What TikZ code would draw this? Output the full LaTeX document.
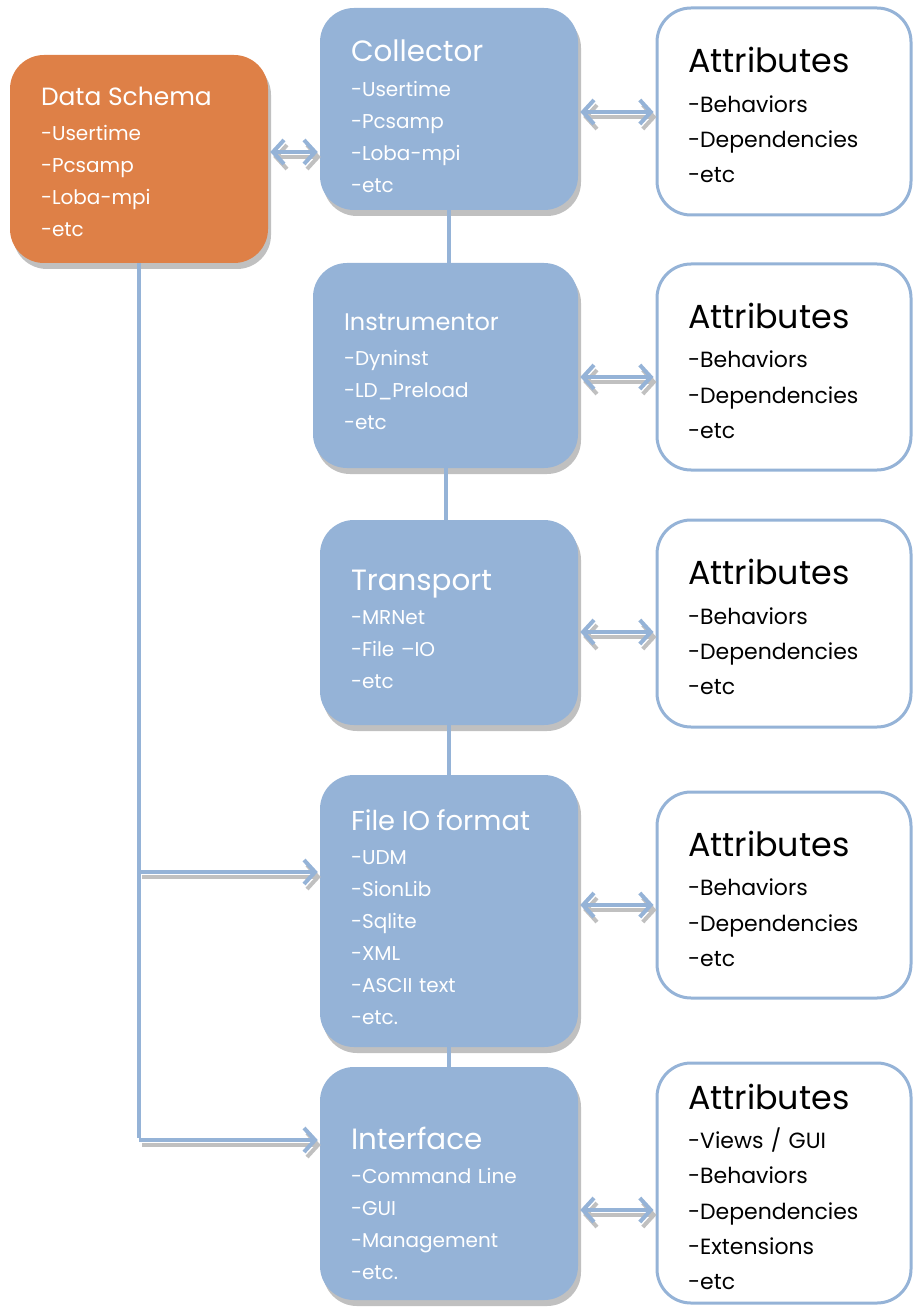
\documentclass[tikz,border=0pt]{standalone}
\usepackage{fontspec}
\setmainfont{Poppins}
\usetikzlibrary{arrows.meta,positioning,shadows}

\definecolor{boxblue}{HTML}{95B3D7}
\definecolor{schemaorange}{HTML}{DE8047}
\definecolor{shadowgray}{HTML}{C0C0C0}
\newdimen\pxu \pxu=0.75pt
\newcommand{\ttl}[2][22pt]{{\fontsize{#1}{#1}\selectfont #2}\\[2pt]}
\newcommand{\attrttl}{{\fontsize{25pt}{25pt}\selectfont Attributes}\\[3pt]}

\begin{document}
\begin{tikzpicture}[x=0.75pt,y=-0.75pt,
    >={Straight Barb[length=8.25pt,width=18pt]},
    sized/.style 2 args={text width=#1\pxu,minimum height=#2\pxu},
    toppad/.style={execute at begin node={\rule{0pt}{#1\pxu}}},
    blockbox/.style={rounded corners=25.5pt,fill=boxblue,text=white,align=left,
        inner xsep=23.25pt,inner ysep=0pt,font=\fontsize{15pt}{24pt}\selectfont,
        drop shadow={shadow xshift=2.25pt,shadow yshift=-4.5pt,fill=shadowgray,opacity=1}},
    schemabox/.style={blockbox,fill=schemaorange},
    attrbox/.style={rounded corners=25.5pt,draw=boxblue,line width=2.25pt,fill=white,
        align=left,inner xsep=23.25pt,inner ysep=0pt,toppad=33,
        font=\fontsize{16.5pt}{26.5pt}\selectfont},
    link/.style={draw=boxblue,line width=3pt,shorten <=1.5pt,shorten >=1.5pt},
    shadowline/.style={link,draw=shadowgray,transform canvas={shift={(3,5)}}}]

    \useasboundingbox (0,0) rectangle (913,1308);

    \node[schemabox,sized={196}{208},toppad=24] (schema) at (139,159)
        {\ttl[18.7pt]{Data Schema}-Usertime\\-Pcsamp\\-Loba-mpi\\-etc};

    \node[blockbox,sized={196}{202},toppad=36] (coll) at (449,109)
        {\ttl{Collector}-Usertime\\-Pcsamp\\-Loba-mpi\\-etc};
    \node[blockbox,sized={203}{205},toppad=29] (instr) at (445.5,365.5)
        {\ttl[18pt]{Instrumentor}-Dyninst\\-LD\_Preload\\-etc};
    \node[blockbox,sized={196}{205},toppad=34] (trans) at (449,622.5)
        {\ttl{Transport}-MRNet\\-File --IO\\-etc};
    \node[blockbox,sized={196}{272},toppad=33] (fileio) at (449,911)
        {\ttl[20.5pt]{File IO format}-UDM\\-SionLib\\-Sqlite\\-XML\\-ASCII text\\-etc.};
    \node[blockbox,sized={196}{233},toppad=62] (iface) at (449,1183.5)
        {\ttl{Interface}-Command Line\\-GUI\\-Management\\-etc.};

    \node[attrbox,sized={192}{207}] (attra) at (784,111.5)
        {\attrttl-Behaviors\\-Dependencies\\-etc};
    \node[attrbox,sized={192}{206}] (attrb) at (784,367)
        {\attrttl-Behaviors\\-Dependencies\\-etc};
    \node[attrbox,sized={192}{207}] (attrc) at (784,623.5)
        {\attrttl-Behaviors\\-Dependencies\\-etc};
    \node[attrbox,sized={192}{206}] (attrd) at (784,895)
        {\attrttl-Behaviors\\-Dependencies\\-etc};
    \node[attrbox,sized={192}{240}] (attre) at (784,1183)
        {\attrttl-Views / GUI\\-Behaviors\\-Dependencies\\-Extensions\\-etc};

    \foreach \from/\to in {coll/instr,instr/trans,trans/fileio,fileio/iface}
        \draw[link,shorten <=0pt,shorten >=0pt] (\from.south) -- (\from.south |- \to.north);

    \foreach \from/\to/\y in {schema/coll/152,coll/attra/112,instr/attrb/377,
                              trans/attrc/632,fileio/attrd/905,iface/attre/1210} {
        \draw[shadowline,<->] (\from.east |- 0,\y) -- (\to.west |- 0,\y);
        \draw[link,<->] (\from.east |- 0,\y) -- (\to.west |- 0,\y);
    }

    \draw[link,shorten <=0pt] (schema.south) -- (schema.south |- 0,1140);
    \foreach \to/\y in {fileio/872,iface/1140} {
        \draw[shadowline,->,shorten <=0pt] (schema.south |- 0,\y) -- (\to.west |- 0,\y);
        \draw[link,->,shorten <=0pt] (schema.south |- 0,\y) -- (\to.west |- 0,\y);
    }
\end{tikzpicture}
\end{document}
